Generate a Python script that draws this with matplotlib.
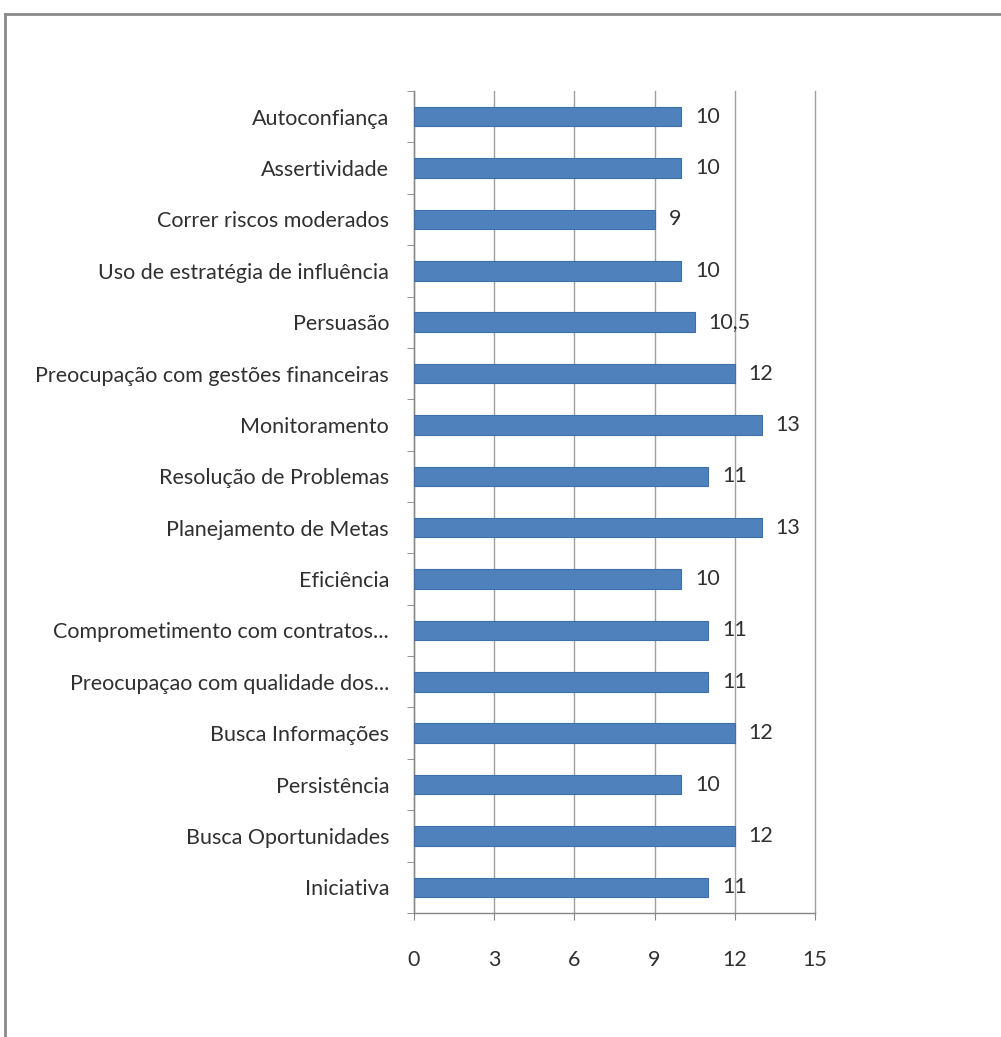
import matplotlib
matplotlib.use("Agg")
import matplotlib.pyplot as plt
from matplotlib.lines import Line2D
from matplotlib.ticker import FixedLocator

categories = [
    "Iniciativa",
    "Busca Oportunidades",
    "Persistência",
    "Busca Informações",
    "Preocupaçao com qualidade dos...",
    "Comprometimento com contratos...",
    "Eficiência",
    "Planejamento de Metas",
    "Resolução de Problemas",
    "Monitoramento",
    "Preocupação com gestões financeiras",
    "Persuasão",
    "Uso de estratégia de influência",
    "Correr riscos moderados",
    "Assertividade",
    "Autoconfiança",
]
values = [11, 12, 10, 12, 11, 11, 10, 13, 11, 13, 12, 10.5, 10, 9, 10, 10]
x_ticks = [0, 3, 6, 9, 12, 15]

plt.rcParams['font.family'] = ['Lato', 'DejaVu Sans']

fig = plt.figure(figsize=(10.01, 10.37), dpi=100)
ax = fig.add_axes([0.4136, 0.1196, 0.4006, 0.7926])

ypos = list(range(len(categories)))
ax.barh(ypos, values, height=0.38, color="#4F81BD", edgecolor="#3F6FA8", linewidth=0.8, zorder=3)

for y, v in zip(ypos, values):
    txt = f"{v:g}".replace(".", ",")
    ax.annotate(txt, (v, y), xytext=(10, 0), textcoords="offset points",
                va="center", ha="left", fontsize=15.5, color="#303030")

ax.set_xlim(0, 15)
ax.set_ylim(-0.5, len(categories) - 0.5)
ax.set_xticks(x_ticks)
ax.set_xticklabels([str(t) for t in x_ticks])
ax.set_yticks(ypos)
ax.set_yticklabels(categories)
ax.yaxis.set_minor_locator(FixedLocator([i - 0.5 for i in range(len(categories) + 1)]))

ax.tick_params(axis="y", which="major", length=0, pad=18, labelsize=15.5, labelcolor="#303030")
ax.tick_params(axis="y", which="minor", length=5, color="#868686", direction="out")
ax.tick_params(axis="x", which="major", length=5, color="#868686", pad=22, labelsize=15.5, labelcolor="#303030")

ax.grid(axis="x", color="#A0A0A0", linewidth=1.0, zorder=0)
for gl in ax.get_xgridlines():
    gl.set_clip_on(False)
ax.set_axisbelow(True)
for s in ["top", "right"]:
    ax.spines[s].set_visible(False)
for s in ["left", "bottom"]:
    ax.spines[s].set_color("#868686")
    ax.spines[s].set_linewidth(1.0)

# Outer chart border (top and left edges visible)
fig.add_artist(Line2D([5/1001, 1.0], [1 - 14/1037, 1 - 14/1037], transform=fig.transFigure,
                      color="#8A8A8A", linewidth=2))
fig.add_artist(Line2D([5/1001, 5/1001], [0.0, 1 - 14/1037], transform=fig.transFigure,
                      color="#8A8A8A", linewidth=2))

fig.savefig("out.png", dpi=100)
